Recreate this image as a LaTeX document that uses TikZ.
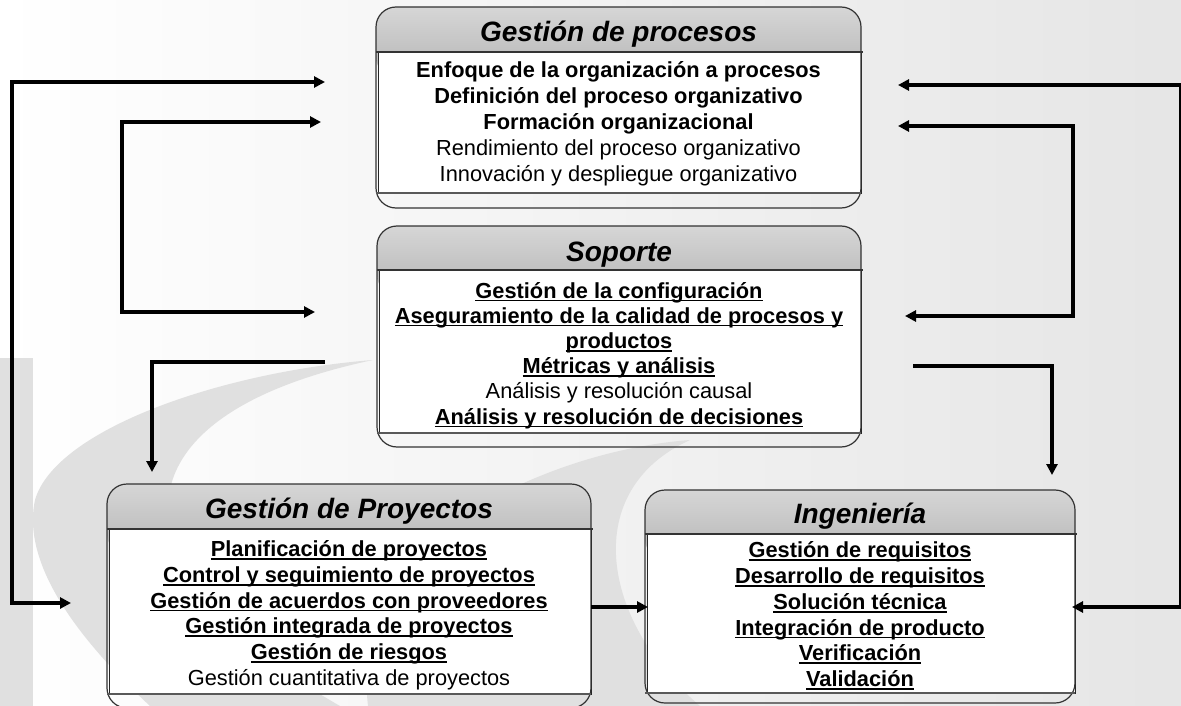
\documentclass[tikz,border=0pt]{standalone}
\usepackage{fontspec}
\setmainfont{Liberation Sans}
\usetikzlibrary{calc,arrows.meta}
\def\areabox(#1:#2:#3:#4:#5:#6){\shade[top color=black!16, bottom color=black!29, rounded corners=20pt] (#1, #2) rectangle (#3, #5+25);
	\draw[fill=white, draw=black!85, line width=0.8pt] (#1+2, #5) rectangle (#3, #6);
	\draw[line width=1.2pt, color=black!80, rounded corners=20pt] (#1, #2) rectangle (#3, #4);
	\draw[line width=2pt, color=black!80] (#1, #5) -- (#3+2, #5);
	\draw[line width=1.5pt, color=black!65] (#1, #6) -- (#3, #6);}
\newcommand\ulin[1]{\strut\setbox0\hbox{#1}\rlap{\rule[-3.2pt]{\wd0}{1.7pt}}\box0}

\begin{document}
\begin{tikzpicture}[x=1pt, y=-1pt,
	headtext/.style={font=\bfseries\itshape\fontsize{28}{32}\selectfont, anchor=base, inner sep=0pt},
	bodytext/.style={align=center, inner sep=0pt, font=\fontsize{21.8}{#1}\selectfont},
	flow/.style={line width=3.2pt},
	>={Triangle[length=11pt, width=11pt]}]
		%%%%% START %%%%%
		\useasboundingbox (0, 0) rectangle (1181, 706);
		\shade[left color=white, right color=black!10] (0, 0) rectangle (1181, 706);
		
		% watermark
		\fill[color=black!12] (0, 358) rectangle (33, 706);
		\fill[color=black!12] (373, 360) .. controls (220, 372) and (55, 430) .. (35, 500) .. controls (20, 570) and (90, 650) .. (150, 706) -- (340, 706) .. controls (120, 580) and (90, 420) .. (373, 360) -- cycle;
		\fill[color=black!12] (690, 440) .. controls (560, 450) and (420, 520) .. (380, 600) .. controls (365, 640) and (365, 680) .. (368, 706) -- (700, 706) .. controls (600, 620) and (580, 490) .. (690, 440) -- cycle;
		
		% boxes
		\areabox(376:7:861:208:52:193)
		\areabox(377:226:861:447:270:433)
		\areabox(107:484:591:708:529:694)
		\areabox(645:490:1075:703:534:693)
		
		\node[headtext] (gp) at (618.5, 42) {Gestión de procesos};
		\node[bodytext=26.2] (gpbody) at (618.5, 124.2) {\strut\textbf{Enfoque de la organización a procesos}\\\strut\textbf{Definición del proceso organizativo}\\\strut\textbf{Formación organizacional}\\\strut Rendimiento del proceso organizativo\\\strut Innovación y despliegue organizativo};
		
		\node[headtext] (sop) at (619, 261) {Soporte};
		\node[bodytext=25.2] (sopbody) at (619, 356) {\ulin{\bfseries Gestión de la configuración}\\\ulin{\bfseries Aseguramiento de la calidad de procesos y}\\\ulin{\bfseries productos}\\\ulin{\bfseries Métricas y análisis}\\\strut Análisis y resolución causal\\\ulin{\bfseries Análisis y resolución de decisiones}};
		
		\node[headtext] (gproy) at (349, 518) {Gestión de Proyectos};
		\node[bodytext=25.7] (gproybody) at (349, 615.8) {\ulin{\bfseries Planificación de proyectos}\\\ulin{\bfseries Control y seguimiento de proyectos}\\\ulin{\bfseries Gestión de acuerdos con proveedores}\\\ulin{\bfseries Gestión integrada de proyectos}\\\ulin{\bfseries Gestión de riesgos}\\\strut Gestión cuantitativa de proyectos};
		
		\node[headtext] (ing) at (860, 523) {Ingeniería};
		\node[bodytext=25.7] (ingbody) at (860, 617.1) {\ulin{\bfseries Gestión de requisitos}\\\ulin{\bfseries Desarrollo de requisitos}\\\ulin{\bfseries Solución técnica}\\\ulin{\bfseries Integración de producto}\\\ulin{\bfseries Verificación}\\\ulin{\bfseries Validación}};
		
		% arrow ends
		\coordinate (gpW1) at (325, 82);
		\coordinate (gpW2) at (321, 122);
		\coordinate (sopW) at (315, 312);
		\coordinate (sopWout) at (325, 362);
		\coordinate (gproyN) at (152, 472);
		\coordinate (gproyW) at (71, 603);
		\coordinate (gproyE) at (591, 607);
		\coordinate (ingW) at (648, 607);
		\coordinate (gpE1) at (898, 85);
		\coordinate (gpE2) at (898, 126);
		\coordinate (sopE) at (905, 316);
		\coordinate (sopEout) at (913, 366);
		\coordinate (ingN) at (1052, 475);
		\coordinate (ingE) at (1072, 607);
		
		\draw[flow, <->] (gpW1) -- (12, 82) |- (gproyW);
		\draw[flow, <->] (gpW2) -- (122, 122) |- (sopW);
		\draw[flow, ->] (sopWout) -| (gproyN);
		\draw[flow, ->] (gproyE) -- (ingW);
		\draw[flow, <->] (gpE1) -- (1181, 85) |- (ingE);
		\draw[flow, <->] (gpE2) -- (1073, 126) |- (sopE);
		\draw[flow, ->] (sopEout) -| (ingN);
		%%%%% END %%%%%
	\end{tikzpicture}
\end{document}
